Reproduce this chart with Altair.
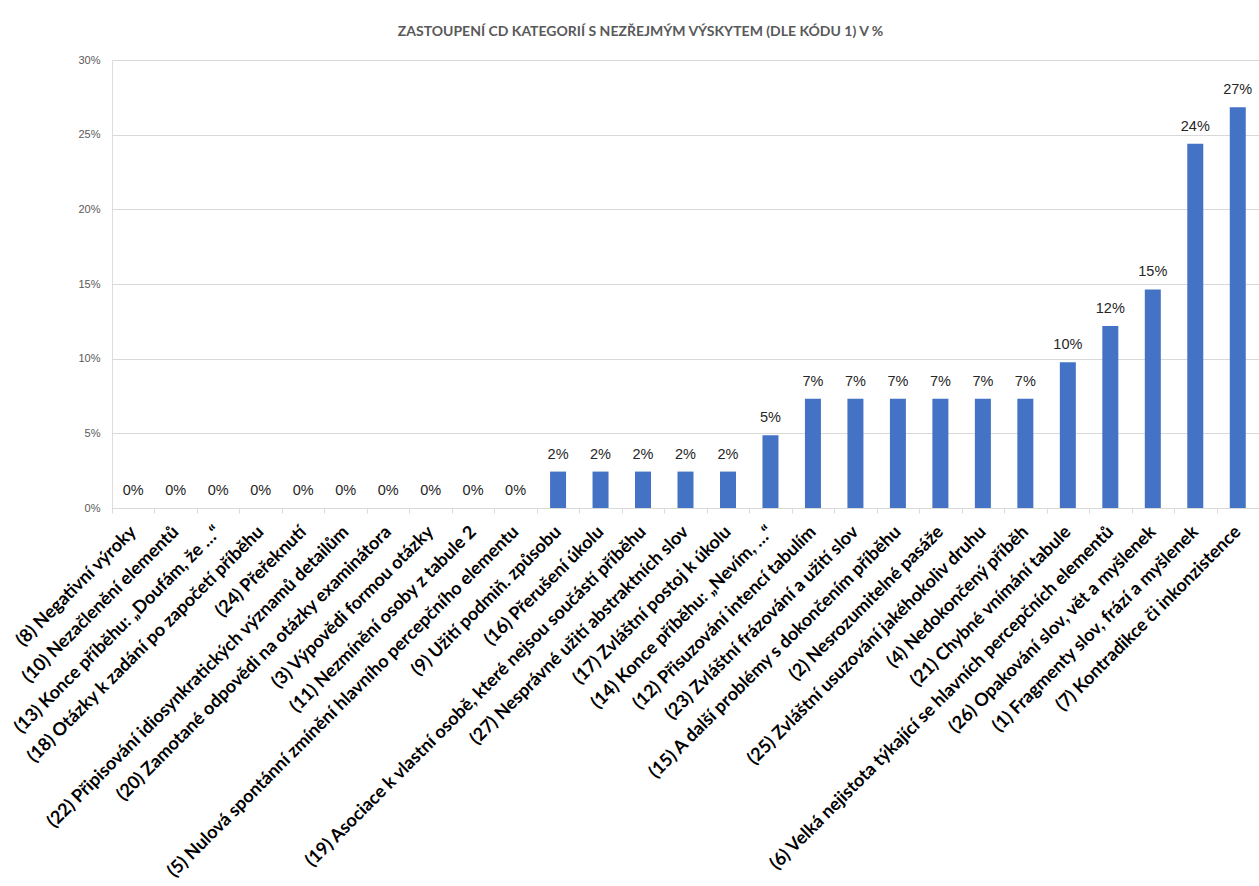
import altair as alt
import pandas as pd

# Categories in display order, with counts out of 41 protocols
categories = [
    "(8) Negativní výroky",
    "(10) Nezačlenění elementů",
    "(13) Konce příběhu: „Doufám, že …“",
    "(18) Otázky k zadání po započetí příběhu",
    "(24) Přeřeknutí",
    "(22) Připisování idiosynkratických významů detailům",
    "(20) Zamotané odpovědi na otázky examinátora",
    "(3) Výpovědi formou otázky",
    "(11) Nezmínění osoby z tabule 2",
    "(5) Nulová spontánní zmínění hlavního percepčního elementu",
    "(9) Užití podmiň. způsobu",
    "(16) Přerušení úkolu",
    "(19) Asociace k vlastní osobě, které nejsou součástí příběhu",
    "(27) Nesprávné užití abstraktních slov",
    "(17) Zvláštní postoj k úkolu",
    "(14) Konce příběhu: „Nevím, …“",
    "(12) Přisuzování intencí tabulím",
    "(23) Zvláštní frázování a užití slov",
    "(15) A další problémy s dokončením příběhu",
    "(2) Nesrozumitelné pasáže",
    "(25) Zvláštní usuzování jakéhokoliv druhu",
    "(4) Nedokončený příběh",
    "(21) Chybné vnímání tabule",
    "(6) Velká nejistota týkající se hlavních percepčních elementů",
    "(26) Opakování slov, vět a myšlenek",
    "(1) Fragmenty slov, frází a myšlenek",
    "(7) Kontradikce či inkonzistence",
]
counts = [0, 0, 0, 0, 0, 0, 0, 0, 0, 0,
          1, 1, 1, 1, 1, 2, 3, 3, 3, 3, 3, 3, 4, 5, 6, 10, 11]
total = 41

df = pd.DataFrame({
    "kategorie": categories,
    "podil": [c / total for c in counts],
})

x = alt.X(
    "kategorie:N",
    sort=categories,
    title=None,
    scale=alt.Scale(paddingInner=0, paddingOuter=0),
    axis=alt.Axis(
        labelAngle=-45,
        labelAlign="right",
        labelBaseline="middle",
        labelFont="Lato",
        labelFontWeight="bold",
        labelFontSize=18,
        labelColor="#000000",
        labelPadding=16,
        labelLimit=0,
        labelOverlap=False,
        tickBand="extent",
        tickSize=5,
        tickColor="#d9d9d9",
        domainColor="#d9d9d9",
        grid=False,
    ),
)

y = alt.Y(
    "podil:Q",
    title=None,
    scale=alt.Scale(domain=[0, 0.3], nice=False),
    axis=alt.Axis(
        values=[0, 0.05, 0.10, 0.15, 0.20, 0.25, 0.30],
        format=".0%",
        labelFont="Liberation Sans",
        labelFontSize=11,
        labelColor="#595959",
        labelPadding=12,
        ticks=False,
        domain=False,
        gridColor="#d9d9d9",
    ),
)

bars = alt.Chart(df).mark_bar(size=16, color="#4472C4").encode(x=x, y=y)

labels = alt.Chart(df).mark_text(
    baseline="alphabetic",
    dy=-13,
    font="Liberation Sans",
    fontSize=14.5,
    color="#262626",
).encode(
    x=alt.X("kategorie:N", sort=categories),
    y="podil:Q",
    text=alt.Text("podil:Q", format=".0%"),
)

chart = (
    (bars + labels)
    .properties(
        width=1147,
        height=448,
        autosize=alt.AutoSizeParams(type="none"),
        padding={"left": 112, "top": 60, "right": 0, "bottom": 378},
        title=alt.TitleParams(
            "ZASTOUPENÍ CD KATEGORIÍ S NEZŘEJMÝM VÝSKYTEM  (DLE KÓDU 1) V %",
            font="Lato",
            fontSize=14,
            fontWeight="bold",
            color="#595959",
            anchor="middle",
            dx=-45,
            offset=15,
        ),
    )
    .configure_view(stroke=None)
    .configure(background="white")
)

chart.save("out.html", embed_options={"renderer": "svg", "actions": False})
